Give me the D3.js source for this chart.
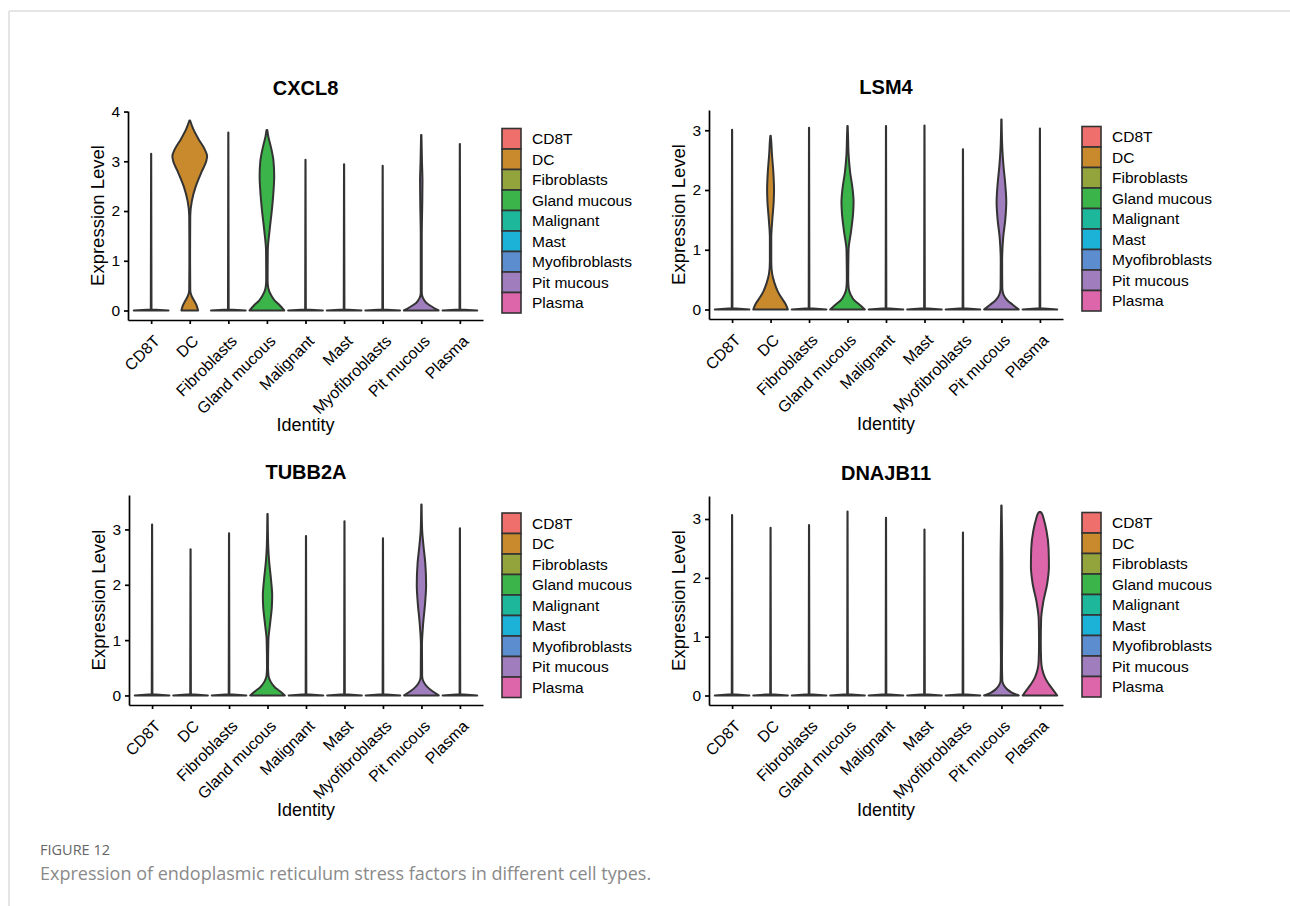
<!DOCTYPE html>
<html>
<head>
<meta charset="utf-8">
<script src="https://cdn.jsdelivr.net/npm/d3@7"></script>
<style>
  html, body { margin: 0; padding: 0; background: #fff; }
  svg { display: block; }
</style>
</head>
<body>
<svg id="fig" width="1290" height="906"></svg>
<script>
// Cell types (x categories / legend) and their fill colours
const cellTypes = ["CD8T", "DC", "Fibroblasts", "Gland mucous", "Malignant",
  "Mast", "Myofibroblasts", "Pit mucous", "Plasma"];
const typeColors = ["#ef6f6c", "#c98a2e", "#93a43c", "#3bb54a", "#1db79b",
  "#1cb2d7", "#5c8ecf", "#a07dbd", "#dd66ab"];

const genes = ["CXCL8", "LSM4", "TUBB2A", "DNAJB11"];

// highest expression value in each cell type (top of each violin)
const maxCXCL8 = [3.15, 3.82, 3.58, 3.63, 3.03, 2.94, 2.91, 3.53, 3.35];
const maxLSM4 = [3.01, 2.91, 3.04, 3.07, 3.07, 3.08, 2.68, 3.18, 3.03];
const maxTUBB2A = [3.09, 2.64, 2.93, 3.28, 2.88, 3.15, 2.84, 3.45, 3.02];
const maxDNAJB11 = [3.07, 2.85, 2.90, 3.13, 3.02, 2.82, 2.77, 3.23, 3.12];

// density outlines: [expression, relative width]
// cell types not listed are almost all zero (flat line + thin spike)
const profCXCL8 = {
  "DC": [[0, 0.48], [0.1, 0.4], [0.2, 0.25], [0.3, 0.1], [0.4, 0.03], [1.0, 0.02],
    [1.9, 0.03], [2.2, 0.12], [2.5, 0.35], [2.8, 0.7], [3.0, 0.95], [3.1, 1.0],
    [3.25, 0.85], [3.45, 0.5], [3.65, 0.2], [3.82, 0.02]],
  "Gland mucous": [[0, 1], [0.1, 0.75], [0.2, 0.45], [0.3, 0.25], [0.45, 0.08],
    [0.6, 0.04], [1.2, 0.05], [1.6, 0.15], [2.0, 0.28], [2.4, 0.38], [2.7, 0.42],
    [3.0, 0.38], [3.3, 0.22], [3.5, 0.08], [3.63, 0.02]],
  "Pit mucous": [[0, 1], [0.08, 0.6], [0.15, 0.3], [0.25, 0.1], [0.35, 0.03],
    [1.5, 0.03], [2.2, 0.06], [2.6, 0.07], [3.0, 0.04], [3.53, 0.01]]
};
const profLSM4 = {
  "DC": [[0, 1], [0.1, 0.85], [0.2, 0.62], [0.3, 0.42], [0.45, 0.22], [0.6, 0.09],
    [0.8, 0.04], [1.2, 0.04], [1.5, 0.1], [1.8, 0.18], [2.0, 0.2], [2.3, 0.16],
    [2.6, 0.08], [2.85, 0.03], [2.91, 0.01]],
  "Gland mucous": [[0, 1], [0.08, 0.7], [0.15, 0.4], [0.25, 0.18], [0.35, 0.07],
    [0.5, 0.04], [1.0, 0.06], [1.3, 0.2], [1.6, 0.32], [1.8, 0.35], [2.0, 0.3],
    [2.3, 0.15], [2.6, 0.06], [2.9, 0.03], [3.07, 0.01]],
  "Pit mucous": [[0, 1], [0.08, 0.65], [0.15, 0.35], [0.25, 0.12], [0.35, 0.05],
    [0.8, 0.04], [1.2, 0.1], [1.5, 0.22], [1.8, 0.28], [2.1, 0.22], [2.4, 0.12],
    [2.7, 0.05], [3.18, 0.01]]
};
const profTUBB2A = {
  "Gland mucous": [[0, 1], [0.08, 0.7], [0.15, 0.42], [0.25, 0.18], [0.35, 0.06],
    [0.5, 0.03], [1.0, 0.05], [1.3, 0.15], [1.6, 0.25], [1.8, 0.27], [2.1, 0.2],
    [2.4, 0.1], [2.7, 0.04], [3.28, 0.01]],
  "Pit mucous": [[0, 1], [0.08, 0.62], [0.15, 0.35], [0.25, 0.12], [0.35, 0.04],
    [0.9, 0.03], [1.3, 0.1], [1.7, 0.22], [2.0, 0.27], [2.4, 0.22], [2.7, 0.12],
    [3.0, 0.04], [3.45, 0.01]]
};
const profDNAJB11 = {
  "Pit mucous": [[0, 1], [0.05, 0.6], [0.1, 0.35], [0.17, 0.15], [0.25, 0.05],
    [0.6, 0.03], [1.5, 0.05], [2.2, 0.05], [2.8, 0.03], [3.23, 0.01]],
  "Plasma": [[0, 1], [0.1, 0.75], [0.2, 0.5], [0.3, 0.3], [0.45, 0.13], [0.6, 0.07],
    [0.9, 0.05], [1.3, 0.07], [1.6, 0.2], [1.9, 0.42], [2.2, 0.52], [2.5, 0.5],
    [2.8, 0.38], [3.0, 0.22], [3.1, 0.1], [3.12, 0.04]]
};

const geneMax = [maxCXCL8, maxLSM4, maxTUBB2A, maxDNAJB11];
const geneProf = [profCXCL8, profLSM4, profTUBB2A, profDNAJB11];
const yTicks = [[0, 1, 2, 3, 4], [0, 1, 2, 3], [0, 1, 2, 3], [0, 1, 2, 3]];

const svg = d3.select("#fig");
const font = "'Liberation Sans', Arial, sans-serif";

// page frame lines
svg.append("line").attr("x1", 9).attr("x2", 1290).attr("y1", 11).attr("y2", 11)
  .attr("stroke", "#dcdcdc").attr("stroke-width", 1.5);
svg.append("line").attr("x1", 9).attr("x2", 9).attr("y1", 11).attr("y2", 906)
  .attr("stroke", "#dcdcdc").attr("stroke-width", 1.5);

// panel boxes: [left, right, top, bottom]
const panels = [
  [128, 483, 111, 320],
  [709, 1063, 110, 319],
  [129, 483, 495, 705],
  [709, 1063, 496, 705]
];

const color = d3.scaleOrdinal().domain(cellTypes).range(typeColors);

genes.forEach((gene, gi) => {
  const [left, right, top, bottom] = panels[gi];
  const maxv = geneMax[gi];
  const prof = geneProf[gi];
  const hi = d3.max(maxv);

  const x = d3.scalePoint().domain(cellTypes).range([left, right]).padding(0.6);
  const y = d3.scaleLinear().domain([-0.05 * hi, 1.05 * hi]).range([bottom, top]);
  const half = x.step() * 0.45;

  const g = svg.append("g");

  // violins
  cellTypes.forEach((ct, i) => {
    const pts = prof[ct] || [[0, 1], [0.022, 0.02], [maxv[i], 0.004]];
    const cx = x(ct);
    const area = d3.area()
      .y(d => y(d[0]))
      .x0(d => cx - d[1] * half)
      .x1(d => cx + d[1] * half)
      .curve(prof[ct] ? d3.curveMonotoneY : d3.curveLinear);
    g.append("path")
      .attr("d", area(pts))
      .attr("fill", color(ct))
      .attr("stroke", "#333")
      .attr("stroke-width", 2)
      .attr("stroke-linejoin", "round");
  });

  // axes
  const yAxis = g.append("g")
    .attr("transform", `translate(${left},0)`)
    .call(d3.axisLeft(y).tickValues(yTicks[gi]).tickFormat(d3.format("d"))
      .tickSize(4).tickSizeOuter(0).tickPadding(4));
  const xAxis = g.append("g")
    .attr("transform", `translate(0,${bottom})`)
    .call(d3.axisBottom(x).tickSize(4).tickSizeOuter(0));

  [yAxis, xAxis].forEach(a => {
    a.attr("font-family", font).attr("font-size", 15);
    a.select(".domain").attr("stroke", "#000").attr("stroke-width", 1.7);
    a.selectAll(".tick line").attr("stroke", "#000").attr("stroke-width", 1.7);
    a.selectAll("text").attr("fill", "#000")
      .style("font-family", font).style("font-size", "15.5px");
  });

  xAxis.selectAll(".tick text")
    .style("font-size", "16px")
    .attr("x", 0).attr("y", 0).attr("dy", "0.72em")
    .attr("text-anchor", "end")
    .attr("transform", "translate(1,14) rotate(-45)");

  // titles
  g.append("text")
    .attr("x", (left + right) / 2).attr("y", top - 16)
    .attr("text-anchor", "middle")
    .attr("font-family", font).attr("font-size", 20).attr("font-weight", "bold")
    .attr("fill", "#000")
    .text(gene);

  g.append("text")
    .attr("x", (left + right) / 2).attr("y", bottom + 111)
    .attr("text-anchor", "middle")
    .attr("font-family", font).attr("font-size", 18).attr("fill", "#000")
    .text("Identity");

  g.append("text")
    .attr("transform", `translate(${left - 24},${(top + bottom) / 2}) rotate(-90)`)
    .attr("text-anchor", "middle")
    .attr("font-family", font).attr("font-size", 18.5).attr("fill", "#000")
    .text("Expression Level");

  // legend
  const rowH = 20.5;
  const legTop = (top + bottom) / 2 - 86 + (gi % 2 === 0 ? -1 : -2);
  const leg = g.append("g").attr("transform", `translate(${right + 19},${legTop})`);
  cellTypes.forEach((ct, i) => {
    leg.append("rect")
      .attr("x", 0).attr("y", i * rowH)
      .attr("width", 19).attr("height", rowH)
      .attr("fill", color(ct))
      .attr("stroke", "#333").attr("stroke-width", 1.6);
    leg.append("text")
      .attr("x", 30).attr("y", i * rowH + rowH / 2)
      .attr("dy", "0.35em")
      .attr("font-family", font).attr("font-size", 15.5).attr("fill", "#000")
      .text(ct);
  });
});

// caption
svg.append("text")
  .attr("x", 40).attr("y", 855)
  .attr("font-family", "'Open Sans', sans-serif").attr("font-size", 14.5)
  .attr("fill", "#666")
  .text("FIGURE 12");
svg.append("text")
  .attr("x", 40).attr("y", 880)
  .attr("font-family", "'Open Sans', sans-serif").attr("font-size", 18)
  .attr("fill", "#8a8a8a")
  .text("Expression of endoplasmic reticulum stress factors in different cell types.");
</script>
</body>
</html>
